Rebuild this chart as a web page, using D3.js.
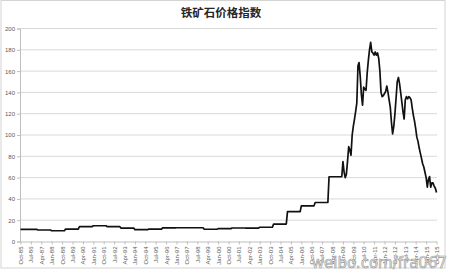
<!DOCTYPE html>
<html>
<head>
<meta charset="utf-8">
<script src="https://cdn.jsdelivr.net/npm/d3@7"></script>
<style>
  body { margin: 0; background: #fff; }
  svg { display: block; font-family: "Liberation Sans", Arial, sans-serif; }
</style>
</head>
<body>
<div id="chart"></div>
<script>
// annual benchmark prices (held for the whole year)
const annualStarts = ["1985-10", "1987-01", "1988-01", "1989-01", "1990-01", "1991-01", "1992-01",
    "1993-01", "1994-01", "1995-01", "1996-01", "1997-01", "1998-01", "1999-01", "2000-01",
    "2001-01", "2002-01", "2003-01", "2004-01", "2005-01", "2006-01", "2007-01", "2008-01"];
const annualValues = [11.4, 10.8, 10.1, 11.7, 13.9, 14.8, 13.9,
    12.6, 11.1, 11.7, 12.8, 12.9, 12.9, 11.5, 12.0,
    12.7, 12.6, 13.4, 16.4, 28.1, 33.5, 36.6, 60.8];
const annualEnd = "2008-12";

// monthly spot prices from Jan-09
const monthlyStart = "2009-01";
const monthlyValues = [
    75, 65, 60, 63, 75, 89, 86, 81, 100, 108, 115, 122,
    130, 165, 168, 155, 138, 128, 145, 143, 142, 158, 170, 180,
    187, 178, 177, 175, 178, 175, 177, 172, 160, 140, 136, 137,
    139, 141, 146, 140, 133, 126, 112, 101, 108, 120, 135, 150,
    154, 148, 140, 131, 122, 115, 133, 136, 134, 136, 135, 133,
    125, 118, 113, 106, 98, 94, 88, 83, 78, 73, 70, 65,
    60, 51, 58, 61, 51, 55, 55, 52, 50, 46
];

const xLabels = ["Oct-85", "Jul-86", "Apr-87", "Jan-88", "Oct-88", "Jul-89", "Apr-90", "Jan-91",
    "Oct-91", "Jul-92", "Apr-93", "Jan-94", "Oct-94", "Jul-95", "Apr-96", "Jan-97", "Oct-97",
    "Jul-98", "Apr-99", "Jan-00", "Oct-00", "Jul-01", "Apr-02", "Jan-03", "Oct-03", "Jul-04",
    "Apr-05", "Jan-06", "Oct-06", "Jul-07", "Apr-08", "Jan-09", "Oct-09", "Jul-10", "Apr-11",
    "Jan-12", "Oct-12", "Jul-13", "Apr-14", "Jan-15", "Oct-15"];
const yTicks = [0, 20, 40, 60, 80, 100, 120, 140, 160, 180, 200];

const title = "铁矿石价格指数";

const parseMonth = d3.timeParse("%Y-%m");
const parseLabel = d3.timeParse("%b-%y");

// build the point list
let points = [];
annualStarts.forEach((s, i) => {
    let start = parseMonth(s);
    let end = i < annualStarts.length - 1
        ? d3.timeMonth.offset(parseMonth(annualStarts[i + 1]), -1)
        : parseMonth(annualEnd);
    points.push({ date: start, value: annualValues[i] });
    points.push({ date: end, value: annualValues[i] });
});
monthlyValues.forEach((v, i) => {
    points.push({ date: d3.timeMonth.offset(parseMonth(monthlyStart), i), value: v });
});

const width = 450, height = 272;
const plot = { left: 20, right: 437, top: 28.5, bottom: 241.5 };

const svg = d3.select("#chart").append("svg")
    .attr("width", width)
    .attr("height", height);

svg.append("rect")
    .attr("x", 1).attr("y", 0.5)
    .attr("width", 444).attr("height", 267.5)
    .attr("fill", "#fff")
    .attr("stroke", "#d4d4d4")
    .attr("stroke-width", 1);

const x = d3.scaleTime()
    .domain([parseLabel(xLabels[0]), parseLabel(xLabels[xLabels.length - 1])])
    .range([plot.left + 0.5, plot.right - 0.5]);

const y = d3.scaleLinear()
    .domain([0, 200])
    .range([plot.bottom, plot.top]);

// gridlines
svg.append("g")
    .selectAll("line")
    .data(yTicks.filter(d => d > 0))
    .enter().append("line")
    .attr("x1", plot.left)
    .attr("x2", plot.right)
    .attr("y1", d => y(d))
    .attr("y2", d => y(d))
    .attr("stroke", "#d9d9d9")
    .attr("stroke-width", 1);

// y axis
const yAxis = svg.append("g")
    .attr("transform", `translate(${plot.left},0)`)
    .call(d3.axisLeft(y).tickValues(yTicks).tickSize(3).tickPadding(2));
yAxis.select(".domain").attr("stroke", "#bfbfbf");
yAxis.selectAll(".tick line").attr("stroke", "#bfbfbf");
yAxis.selectAll("text")
    .attr("fill", "#595959")
    .style("font-size", "6px");

// x axis
const xAxis = svg.append("g")
    .attr("transform", `translate(0,${plot.bottom})`)
    .call(d3.axisBottom(x)
        .tickValues(xLabels.map(parseLabel))
        .tickFormat(d3.timeFormat("%b-%y"))
        .tickSize(3));
xAxis.select(".domain")
    .attr("d", `M${plot.left},0.5H${plot.right}`)
    .attr("stroke", "#bfbfbf");
xAxis.selectAll(".tick line").attr("stroke", "#bfbfbf");
xAxis.selectAll("text")
    .attr("fill", "#595959")
    .style("font-size", "6px")
    .attr("text-anchor", "end")
    .attr("transform", "rotate(-90)")
    .attr("x", -5)
    .attr("y", 0)
    .attr("dy", "0.32em");

// the price line
const line = d3.line()
    .x(d => x(d.date))
    .y(d => y(d.value));

svg.append("path")
    .datum(points)
    .attr("fill", "none")
    .attr("stroke", "#111")
    .attr("stroke-width", 1.7)
    .attr("stroke-linejoin", "round")
    .attr("d", line);

// title
svg.append("text")
    .attr("x", 221)
    .attr("y", 17)
    .attr("text-anchor", "middle")
    .attr("fill", "#262626")
    .style("font-family", "'Noto Sans CJK SC', sans-serif")
    .style("font-size", "11.5px")
    .style("font-weight", "bold")
    .text(title);

// watermark
svg.append("text")
    .attr("x", 447)
    .attr("y", 268)
    .attr("text-anchor", "end")
    .attr("fill", "#e8e8e8")
    .attr("stroke", "#9a9a9a")
    .attr("stroke-width", 0.6)
    .style("font-family", "'DejaVu Sans', sans-serif")
    .style("font-size", "15px")
    .text("weibo.com/fra067");
</script>
</body>
</html>
